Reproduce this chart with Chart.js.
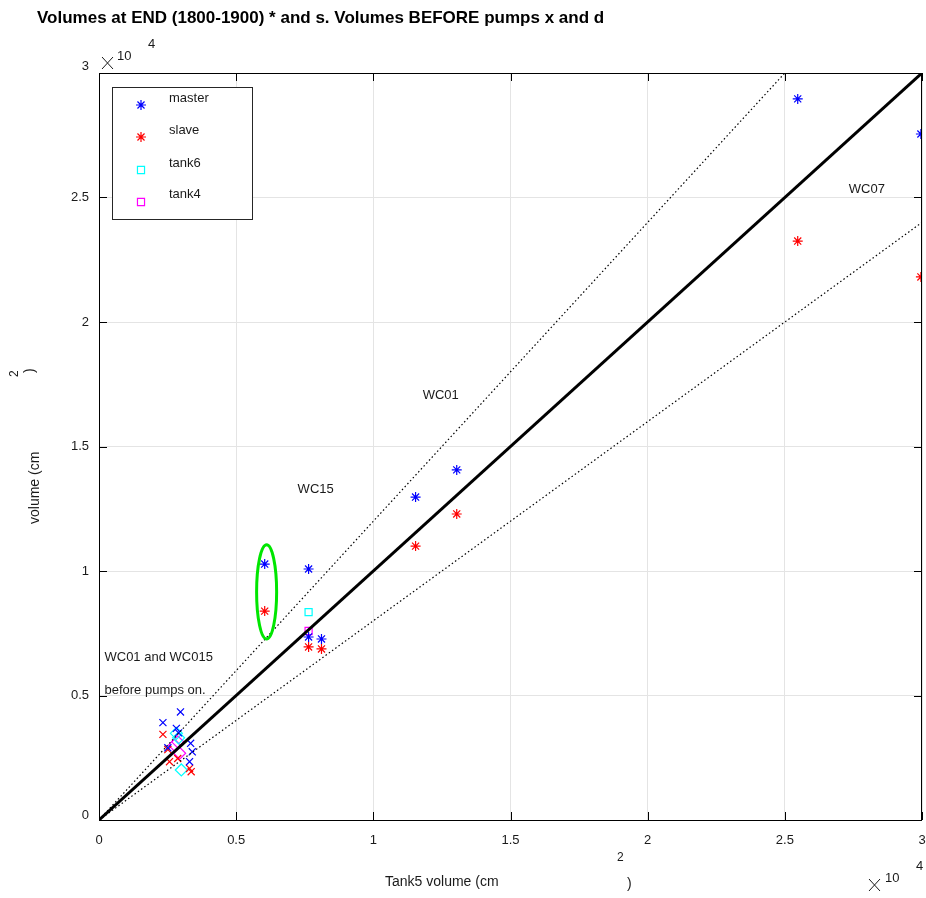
<!DOCTYPE html>
<html lang="en">
  <head>
    <title>tank volumes</title>
    <meta charset="utf-8">
    <script src="https://cdn.jsdelivr.net/npm/chart.js@4/dist/chart.umd.min.js"></script>
    <style>
      body { margin: 0; background: #fff; }
      div.main { width: 926px; height: 898px; }
    </style>
  </head>
  <body>
    <div class="main">
      <canvas id="main-chart" width="926" height="898"></canvas>
    </div>
    <script>
      // volumes in cm^2
      var masterEndX = [6040, 7640, 7640, 8110, 11540, 13040, 25470, 29960];
      var masterEndY = [10280, 10080, 7350, 7270, 12970, 14060, 28960, 27550];
      var slaveEndX = [6040, 7640, 8110, 11540, 13040, 25470, 29960];
      var slaveEndY = [8390, 6950, 6870, 11000, 12290, 23250, 21810];
      var tank6EndX = [7640];
      var tank6EndY = [8350];
      var tank4EndX = [7640];
      var tank4EndY = [7590];

      var masterBeforeX = [2970, 2330, 2820, 2900, 2510, 3340, 3400, 3300];
      var masterBeforeY = [4340, 3910, 3680, 3500, 2900, 3080, 2740, 2340];
      var slaveBeforeX = [2330, 2510, 2570, 2870, 3300, 3360];
      var slaveBeforeY = [3440, 2830, 2340, 2470, 2070, 1940];
      var tank6BeforeX = [2820, 2900, 3000];
      var tank6BeforeY = [3480, 3300, 2010];
      var tank4BeforeX = [2750, 2870, 2940];
      var tank4BeforeY = [3010, 3140, 2680];

      // y = x, y = 1.2x, y = 0.8x
      var unityX = [0, 30000];
      var unityY = [0, 30000];
      var upperX = [0, 25000];
      var upperY = [0, 30000];
      var lowerX = [0, 30000];
      var lowerY = [0, 24000];

      var tickValues = [0, 5000, 10000, 15000, 20000, 25000, 30000];

      var noteText = ['WC01', 'WC15', 'WC07', 'WC01 and WC015', 'before pumps on.'];
      var noteX = [11800, 7240, 27330, 200, 200];
      var noteY = [17070, 13290, 25340, 6510, 5220];

      // highlighted pair (ellipse)
      var ringX = 6110, ringY = 9160, ringRx = 365, ringRy = 1890;

      var legendNames = ['master', 'slave', 'tank6', 'tank4'];

      function pts(xs, ys) {
        return xs.map(function (x, i) { return {x: x, y: ys[i]}; });
      }

      function line(xs, ys, width, dash) {
        return {
          data: pts(xs, ys), showLine: true, borderColor: '#000', borderWidth: width,
          borderDash: dash, pointRadius: 0, fill: false
        };
      }

      function marks(xs, ys, color, style, r) {
        return {
          data: pts(xs, ys), showLine: false, pointStyle: style, pointRadius: r,
          pointBorderColor: color, pointBackgroundColor: 'rgba(0,0,0,0)',
          pointBorderWidth: 1.2, borderColor: color
        };
      }

      var FONT = '"Liberation Sans", Arial, sans-serif';

      function rotText(ctx, t, x, y, font) {
        ctx.save();
        ctx.translate(x, y);
        ctx.rotate(-Math.PI / 2);
        ctx.font = font;
        ctx.fillText(t, 0, 0);
        ctx.restore();
      }

      var decor = {
        id: 'decor',
        afterDatasetsDraw: function (chart) {
          var ctx = chart.ctx, a = chart.chartArea;
          var xs = chart.scales.x, ys = chart.scales.y;
          ctx.save();

          // ellipse
          ctx.strokeStyle = '#00e600';
          ctx.lineWidth = 3;
          ctx.beginPath();
          ctx.ellipse(xs.getPixelForValue(ringX), ys.getPixelForValue(ringY),
                      xs.getPixelForValue(ringX + ringRx) - xs.getPixelForValue(ringX),
                      ys.getPixelForValue(ringY) - ys.getPixelForValue(ringY + ringRy),
                      0, 0, 2 * Math.PI);
          ctx.stroke();

          // box + inner ticks
          ctx.strokeStyle = '#000';
          ctx.lineWidth = 1;
          ctx.strokeRect(Math.round(a.left) + 0.5, Math.round(a.top) + 0.5,
                         Math.round(a.right - a.left) - 1, Math.round(a.bottom - a.top));
          ctx.beginPath();
          tickValues.forEach(function (v) {
            var px = Math.round(xs.getPixelForValue(v)) + 0.5;
            ctx.moveTo(px, a.bottom); ctx.lineTo(px, a.bottom - 8);
            ctx.moveTo(px, a.top); ctx.lineTo(px, a.top + 8);
            var py = Math.round(ys.getPixelForValue(v)) + 0.5;
            ctx.moveTo(a.left, py); ctx.lineTo(a.left + 8, py);
            ctx.moveTo(a.right, py); ctx.lineTo(a.right - 8, py);
          });
          ctx.stroke();

          // tick labels
          ctx.fillStyle = '#1a1a1a';
          ctx.font = '13px ' + FONT;
          ctx.textAlign = 'right';
          ctx.textBaseline = 'middle';
          tickValues.forEach(function (v, i) {
            var off = i === 0 ? -5 : (i === tickValues.length - 1 ? -7 : 0);
            ctx.fillText(String(v / 10000), a.left - 10, ys.getPixelForValue(v) + off);
          });
          ctx.textAlign = 'center';
          tickValues.forEach(function (v) {
            ctx.fillText(String(v / 10000), xs.getPixelForValue(v), a.bottom + 20);
          });

          // notes
          ctx.textAlign = 'left';
          noteText.forEach(function (t, i) {
            ctx.fillText(t, xs.getPixelForValue(noteX[i]), ys.getPixelForValue(noteY[i]));
          });

          // legend
          ctx.fillStyle = '#fff';
          ctx.fillRect(112, 87, 141, 133);
          ctx.strokeStyle = '#262626';
          ctx.strokeRect(112.5, 87.5, 140, 132);
          var ds = chart.data.datasets;
          var legendSets = [ds[3], ds[4], ds[5], ds[6]];
          var markY = [105, 137, 170, 202];
          var textY = [98, 130, 163, 194];
          legendSets.forEach(function (d, i) {
            ctx.strokeStyle = d.pointBorderColor;
            ctx.fillStyle = 'rgba(0,0,0,0)';
            ctx.lineWidth = d.pointBorderWidth;
            Chart.helpers.drawPoint(ctx, {pointStyle: d.pointStyle, radius: d.pointRadius, borderWidth: 1},
                                    141, markY[i]);
            ctx.fillStyle = '#1a1a1a';
            ctx.fillText(legendNames[i], 169, textY[i]);
          });

          // title
          ctx.fillStyle = '#000';
          ctx.font = 'bold 17px ' + FONT;
          ctx.fillText('Volumes at END (1800-1900) * and s. Volumes BEFORE pumps x and d', 37, 18);

          // axis labels
          ctx.fillStyle = '#1a1a1a';
          ctx.font = '14px ' + FONT;
          ctx.fillText('Tank5 volume (cm', 385, 882);
          ctx.font = '12px ' + FONT;
          ctx.fillText('2', 617, 858);
          ctx.font = '14px ' + FONT;
          ctx.fillText(')', 627, 884);

          rotText(ctx, 'volume (cm', 35, 524, '14px ' + FONT);
          rotText(ctx, '2', 15, 377, '12px ' + FONT);
          rotText(ctx, ')', 30, 373, '14px ' + FONT);

          // x10^4 exponents
          ctx.strokeStyle = '#1a1a1a';
          ctx.lineWidth = 1;
          ctx.beginPath();
          ctx.moveTo(102, 57); ctx.lineTo(113, 69);
          ctx.moveTo(113, 57); ctx.lineTo(102, 69);
          ctx.moveTo(869, 879); ctx.lineTo(880, 891);
          ctx.moveTo(880, 879); ctx.lineTo(869, 891);
          ctx.stroke();
          ctx.font = '13px ' + FONT;
          ctx.fillText('10', 117, 56);
          ctx.fillText('4', 148, 44);
          ctx.fillText('10', 885, 878);
          ctx.fillText('4', 916, 866);

          ctx.restore();
        }
      };

      function axis() {
        return {
          type: 'linear', min: 0, max: 30000,
          afterBuildTicks: function (s) { s.ticks = tickValues.map(function (v) { return {value: v}; }); },
          grid: { color: '#e4e4e4', drawTicks: false },
          border: { display: false },
          ticks: { display: false }
        };
      }

      var xAxis = axis();
      xAxis.afterFit = function (s) { s.height = 78; };
      var yAxis = axis();
      yAxis.afterFit = function (s) { s.width = 99; };

      var main_chart = new Chart(document.getElementById('main-chart'), {
        type: 'scatter',
        data: {
          datasets: [
            line(unityX, unityY, 3, []),
            line(upperX, upperY, 1.2, [1.5, 2.5]),
            line(lowerX, lowerY, 1.2, [1.5, 2.5]),
            marks(masterEndX, masterEndY, '#0000ff', 'star', 5),
            marks(slaveEndX, slaveEndY, '#ff0000', 'star', 5),
            marks(tank6EndX, tank6EndY, '#00ffff', 'rect', 5),
            marks(tank4EndX, tank4EndY, '#ff00ff', 'rect', 5),
            marks(masterBeforeX, masterBeforeY, '#0000ff', 'crossRot', 5),
            marks(slaveBeforeX, slaveBeforeY, '#ff0000', 'crossRot', 5),
            marks(tank6BeforeX, tank6BeforeY, '#00ffff', 'rectRot', 6),
            marks(tank4BeforeX, tank4BeforeY, '#ff00ff', 'rectRot', 6)
          ]
        },
        options: {
          responsive: false,
          animation: false,
          layout: { autoPadding: false, padding: { left: 0, right: 4, top: 73, bottom: 0 } },
          plugins: { legend: { display: false }, tooltip: { enabled: false } },
          scales: { x: xAxis, y: yAxis }
        },
        plugins: [decor]
      });
    </script>
  </body>
</html>
